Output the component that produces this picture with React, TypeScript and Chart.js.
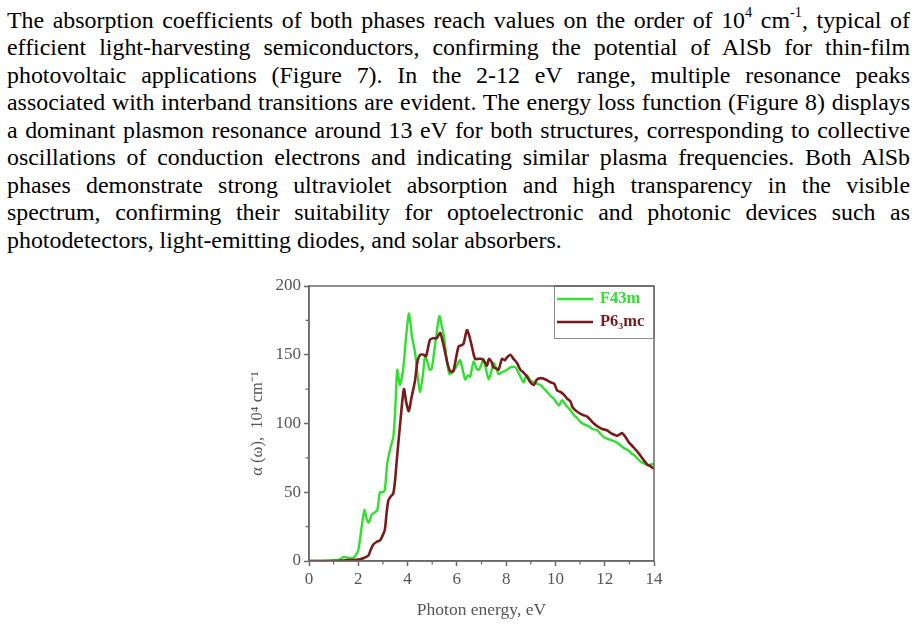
import React, { useEffect, useRef } from "react";
import { Chart, registerables } from "chart.js";

Chart.register(...registerables);

// ---- Data ----
const f43mEnergy = [0, 0.5, 1.0, 1.25, 1.4, 1.55, 1.7, 1.85, 2.0, 2.1, 2.25, 2.35, 2.43, 2.55, 2.65, 2.77, 2.88, 3.0, 3.08, 3.17, 3.3, 3.42, 3.5, 3.58, 3.69, 3.83, 3.95, 4.06, 4.18, 4.3, 4.42, 4.51, 4.62, 4.71, 4.8, 4.9, 4.98, 5.1, 5.29, 5.4, 5.48, 5.6, 5.7, 5.86, 6.0, 6.13, 6.25, 6.34, 6.45, 6.54, 6.68, 6.8, 6.89, 7.0, 7.08, 7.2, 7.29, 7.4, 7.49, 7.6, 7.69, 7.8, 8.03, 8.2, 8.37, 8.5, 8.71, 8.8, 8.85, 9.0, 9.12, 9.25, 9.39, 9.5, 9.66, 9.8, 9.94, 10.14, 10.27, 10.4, 10.49, 10.6, 10.75, 10.88, 11.02, 11.2, 11.36, 11.5, 11.7, 11.85, 11.97, 12.1, 12.24, 12.4, 12.51, 12.65, 12.79, 12.9, 12.99, 13.1, 13.2, 13.35, 13.47, 13.6, 13.73, 13.85, 14.0];
const f43mAlpha = [0, 0, 0.5, 1, 3, 2.5, 2, 3, 8, 20, 37, 30, 28, 34, 35, 37, 50, 50, 52, 70, 82, 90, 110, 139, 128, 141, 165, 180, 163, 152, 133, 123, 135, 149, 145, 139, 140, 155, 178, 170, 163, 145, 136, 138, 142, 146, 138, 132, 135, 134, 145, 140, 139, 143, 147, 138, 132, 138, 144, 140, 136, 137, 139, 141, 141, 137, 130, 134, 135, 131, 130, 129, 128, 126, 123, 120, 118, 113, 117, 114, 112, 110, 106, 104, 101, 99, 98, 96, 95, 92, 90, 89, 88, 87, 86, 84, 82, 81, 80, 78, 77, 74, 72, 71, 70, 70, 71];

const p63mcEnergy = [0, 1.0, 1.5, 2.0, 2.2, 2.41, 2.5, 2.61, 2.75, 2.88, 3.0, 3.08, 3.15, 3.22, 3.32, 3.42, 3.5, 3.56, 3.69, 3.85, 3.95, 4.05, 4.15, 4.3, 4.4, 4.51, 4.65, 4.75, 4.91, 5.05, 5.18, 5.32, 5.42, 5.52, 5.63, 5.73, 5.85, 5.93, 6.07, 6.2, 6.27, 6.41, 6.5, 6.61, 6.74, 6.87, 7.01, 7.12, 7.22, 7.3, 7.4, 7.49, 7.6, 7.69, 7.76, 7.83, 7.95, 8.03, 8.17, 8.3, 8.44, 8.58, 8.71, 8.85, 8.98, 9.12, 9.25, 9.4, 9.6, 9.8, 9.95, 10.07, 10.2, 10.34, 10.48, 10.61, 10.69, 10.85, 11.02, 11.15, 11.29, 11.45, 11.56, 11.7, 11.9, 12.1, 12.25, 12.37, 12.5, 12.6, 12.71, 12.85, 12.99, 13.1, 13.2, 13.35, 13.47, 13.6, 13.73, 13.85, 14.0];
const p63mcAlpha = [0, 0, 0.5, 1, 2, 4, 8, 12, 14, 15, 19, 23, 35, 44, 47, 49, 60, 73, 98, 125, 115, 109, 118, 131, 145, 150, 150, 149, 161, 162, 162, 166, 160, 152, 143, 138, 138, 144, 156, 157, 158, 168, 164, 156, 147, 147, 147, 145, 142, 147, 145, 141, 140, 139, 143, 147, 146, 148, 150, 147, 144, 139, 137, 134, 130, 128, 132, 133, 132, 130, 129, 124, 123, 121, 118, 116, 112, 109, 107, 106, 105, 102, 100, 98, 96, 95, 93, 92, 91, 92, 93, 90, 86, 84, 82, 79, 76, 73, 70, 69, 67];

const seriesNames = ["F43m", "P6\u2083mc"];
const seriesColors = ["#2fe12f", "#7a1b1b"];
const xMinorTicks = [1, 3, 5, 7, 9, 11, 13];
const yMinorTicks = [25, 75, 125, 175];
const xAxisTitle = "Photon energy, eV";
const yAxisTitle = "\u03b1 (\u03c9),  10\u2074 cm\u207b\u00b9";

const paragraphLines = [
  ["The absorption coefficients of both phases reach values on the order of 10", "4", " cm", "-1", ", typical of"],
  ["efficient light-harvesting semiconductors, confirming the potential of AlSb for thin-film"],
  ["photovoltaic applications (Figure 7). In the 2-12 eV range, multiple resonance peaks"],
  ["associated with interband transitions are evident. The energy loss function (Figure 8) displays"],
  ["a dominant plasmon resonance around 13 eV for both structures, corresponding to collective"],
  ["oscillations of conduction electrons and indicating similar plasma frequencies. Both AlSb"],
  ["phases demonstrate strong ultraviolet absorption and high transparency in the visible"],
  ["spectrum, confirming their suitability for optoelectronic and photonic devices such as"],
  ["photodetectors, light-emitting diodes, and solar absorbers."],
];

const AXIS_GRAY = "#6a6a6a";
const TEXT_GRAY = "#555555";
const SERIF = "'Liberation Serif', 'Times New Roman', serif";

const framePlugin = {
  id: "frameAndLegend",
  afterDraw(chart: any) {
    const { ctx, chartArea } = chart;
    const xs = chart.scales.x;
    const ys = chart.scales.y;
    ctx.save();
    // frame
    ctx.strokeStyle = AXIS_GRAY;
    ctx.lineWidth = 1.5;
    ctx.strokeRect(chartArea.left, chartArea.top, chartArea.right - chartArea.left, chartArea.bottom - chartArea.top);
    // minor ticks
    ctx.lineWidth = 1.2;
    ctx.beginPath();
    xMinorTicks.forEach((v) => {
      const px = xs.getPixelForValue(v);
      ctx.moveTo(px, chartArea.bottom);
      ctx.lineTo(px, chartArea.bottom + 3.5);
    });
    yMinorTicks.forEach((v) => {
      const py = ys.getPixelForValue(v);
      ctx.moveTo(chartArea.left, py);
      ctx.lineTo(chartArea.left - 3.5, py);
    });
    ctx.stroke();
    // legend box
    const boxW = 100;
    const boxH = 52;
    const bx = chartArea.right - boxW;
    const by = chartArea.top;
    ctx.fillStyle = "#ffffff";
    ctx.fillRect(bx, by, boxW, boxH);
    ctx.strokeStyle = "#8a8a8a";
    ctx.lineWidth = 1;
    ctx.strokeRect(bx + 0.5, by + 0.5, boxW - 0.5, boxH);
    ctx.strokeStyle = AXIS_GRAY;
    ctx.lineWidth = 1.5;
    ctx.beginPath();
    ctx.moveTo(chartArea.right, by);
    ctx.lineTo(chartArea.right, by + boxH);
    ctx.moveTo(bx, by);
    ctx.lineTo(chartArea.right, by);
    ctx.stroke();
    seriesNames.forEach((name, i) => {
      const y = by + 13 + i * 23;
      ctx.strokeStyle = seriesColors[i];
      ctx.lineWidth = 2.5;
      ctx.beginPath();
      ctx.moveTo(bx + 3, y);
      ctx.lineTo(bx + 39, y);
      ctx.stroke();
      ctx.fillStyle = seriesColors[i];
      ctx.font = "bold 16.5px " + SERIF;
      ctx.textBaseline = "middle";
      ctx.textAlign = "left";
      ctx.fillText(name, bx + 46, y);
    });
    ctx.restore();
  },
};

function AbsorptionChart() {
  const ref = useRef<HTMLCanvasElement | null>(null);
  useEffect(() => {
    if (!ref.current) return;
    const chart = new Chart(ref.current, {
      type: "line",
      data: {
        datasets: [
          {
            label: seriesNames[0],
            data: f43mEnergy.map((x, i) => ({ x, y: f43mAlpha[i] })),
            borderColor: seriesColors[0],
            borderWidth: 2.4,
            pointRadius: 0,
            tension: 0.25,
            order: 2,
          },
          {
            label: seriesNames[1],
            data: p63mcEnergy.map((x, i) => ({ x, y: p63mcAlpha[i] })),
            borderColor: seriesColors[1],
            borderWidth: 2.6,
            pointRadius: 0,
            tension: 0.25,
            order: 1,
          },
        ],
      },
      options: {
        animation: false,
        responsive: false,
        layout: { padding: { left: 0, right: 16, top: 16, bottom: 0 } },
        plugins: { legend: { display: false }, tooltip: { enabled: false } },
        scales: {
          x: {
            type: "linear",
            min: 0,
            max: 14,
            afterFit: (s: any) => { s.height = 67; },
            border: { display: true, color: AXIS_GRAY, width: 1.5 },
            grid: { drawOnChartArea: false, drawTicks: true, tickLength: 5, tickColor: AXIS_GRAY, tickWidth: 1.5 },
            ticks: { stepSize: 2, padding: 3, color: TEXT_GRAY, font: { family: SERIF, size: 17 }, maxRotation: 0 },
            title: { display: true, text: xAxisTitle, color: TEXT_GRAY, font: { family: SERIF, size: 17.5 }, padding: { top: 0, bottom: 7 } },
          },
          y: {
            type: "linear",
            min: 0,
            max: 200,
            afterFit: (s: any) => { s.width = 79; },
            border: { display: true, color: AXIS_GRAY, width: 1.5 },
            grid: { drawOnChartArea: false, drawTicks: true, tickLength: 5, tickColor: AXIS_GRAY, tickWidth: 1.5 },
            ticks: { stepSize: 50, padding: 3, color: TEXT_GRAY, font: { family: SERIF, size: 17 } },
            title: { display: true, text: yAxisTitle, color: TEXT_GRAY, font: { family: SERIF, size: 16.5 }, padding: { top: 18, bottom: 0 } },
          },
        },
      },
      plugins: [framePlugin],
    });
    return () => chart.destroy();
  }, []);
  return (
    <canvas
      ref={ref}
      width={440}
      height={358}
      style={{ position: "absolute", left: 230, top: 270, width: 440, height: 358 }}
    />
  );
}

export default function App() {
  const supStyle: React.CSSProperties = { fontSize: "0.6em", position: "relative", top: "-0.75em" };
  return (
    <div style={{ position: "absolute", left: 0, top: 0, width: 917, height: 628, background: "#fff", overflow: "hidden" }}>
      <div
        style={{
          position: "absolute",
          left: 7,
          top: 6.5,
          width: 903,
          fontFamily: SERIF,
          fontSize: 23.9,
          lineHeight: "27.5px",
          color: "#000",
        }}
      >
        {paragraphLines.map((parts, i) => (
          <div
            key={i}
            style={{
              textAlign: i === paragraphLines.length - 1 ? "left" : "justify",
              textAlignLast: i === paragraphLines.length - 1 ? "left" : "justify",
              height: 27.5,
            }}
          >
            {parts.map((p, j) => (j % 2 === 1 ? <span key={j} style={supStyle}>{p}</span> : <React.Fragment key={j}>{p}</React.Fragment>))}
          </div>
        ))}
      </div>
      <AbsorptionChart />
    </div>
  );
}
